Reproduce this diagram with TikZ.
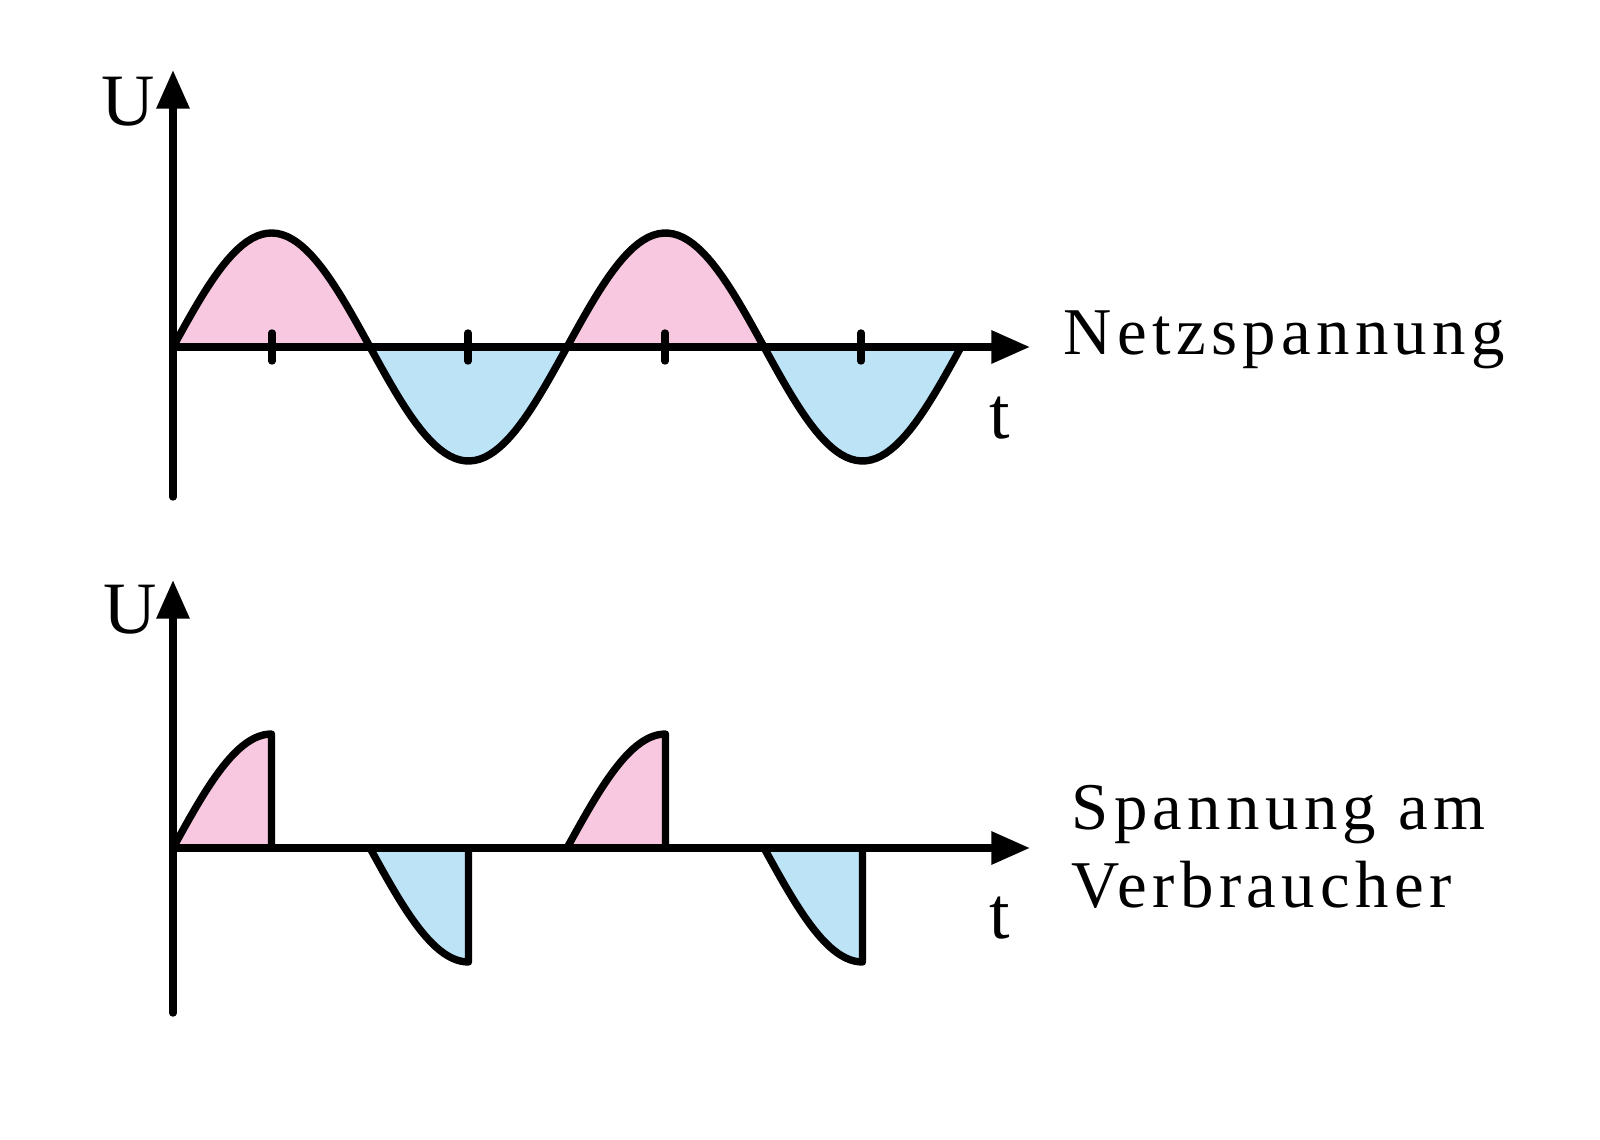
\documentclass[tikz,border=0pt]{standalone}
\usepackage{fontspec}
\setmainfont{Liberation Serif}
\newfontfamily\spaced[LetterSpace=8]{Liberation Serif}
\usetikzlibrary{arrows.meta}
\definecolor{pk}{HTML}{F7C8DF}
\definecolor{bl}{HTML}{BDE3F7}
\begin{document}
\begin{tikzpicture}[x=0.01cm,y=-0.01cm,line width=2.1pt,line join=round,line cap=round,
  ax/.style={-{Triangle[length=11pt,width=9pt]}},
  lab/.style={font=\fontsize{19}{22}\selectfont\spaced,anchor=west,inner sep=0},
  axl/.style={font=\fontsize{21}{24}\selectfont,inner sep=0}]
\useasboundingbox (0,0) rectangle (1600,1140);
% top fills
\foreach \s in {173,567}{
 \fill[pk] plot[domain=0:197,samples=40] ({\s+\x},{347-114*sin(\x/197*180)}) -- cycle;
 \fill[bl] plot[domain=0:197,samples=40] ({\s+197+\x},{347+114*sin(\x/197*180)}) -- cycle;}
\draw plot[domain=0:787,samples=160] ({173+\x},{347-114*sin(\x/197*180)});
\foreach \x in {272,468,665,861} \draw (\x,333) -- (\x,361);
\coordinate (y1a) at (173,497); \coordinate (y1b) at (173,70);
\coordinate (x1a) at (173,347); \coordinate (x1b) at (1030,347);
\draw[ax] (y1a) -- (y1b);
\draw[ax] (x1a) -- (x1b);
\node[axl] (u1) at (128,102) {U};
\node[axl] (t1) at (1000,418) {t};
\node[lab] (n1) at (1060,340) {Netzspannung};
% bottom
\foreach \s in {173,567}{
 \filldraw[fill=pk] plot[domain=0:98.5,samples=25] ({\s+\x},{848-114*sin(\x/197*180)}) -- ({\s+98.5},848);
 \filldraw[fill=bl] plot[domain=0:98.5,samples=25] ({\s+197+\x},{848+114*sin(\x/197*180)}) -- ({\s+295.5},848);}
\coordinate (y2a) at (173,1013); \coordinate (y2b) at (173,580);
\coordinate (x2a) at (173,848); \coordinate (x2b) at (1030,848);
\draw[ax] (y2a) -- (y2b);
\draw[ax] (x2a) -- (x2b);
\node[axl] (u2) at (130,610) {U};
\node[axl] (t2) at (1000,918) {t};
\node[lab] (n2) at (1068,815) {Spannung am};
\node[lab] (n3) at (1068,885) {Verbraucher};
\end{tikzpicture}
\end{document}
